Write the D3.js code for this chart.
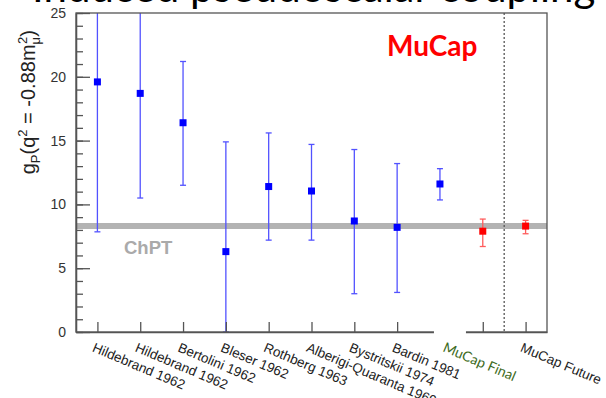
<!DOCTYPE html>
<html>
<head>
<meta charset="utf-8">
<script src="https://cdn.jsdelivr.net/npm/d3@7"></script>
<style>
  body { margin: 0; background: #fff; }
  text { font-family: Arial, "Liberation Sans", sans-serif; }
</style>
</head>
<body>
<svg id="chart" width="606" height="398"></svg>
<script>
// measurements of g_P, one entry per tick on the x axis
const tickLabels = ['Hildebrand 1962', 'Hildebrand 1962', 'Bertolini 1962', 'Bleser 1962',
  'Rothberg 1963', 'Alberigi-Quaranta 1969', 'Bystritskii 1974', 'Bardin 1981',
  'MuCap Final', '', 'MuCap Future']
const values = [19.6, 18.7, 16.4, 6.3, 11.4, 11.05, 8.7, 8.2, 11.6, 7.9, 8.3]
const errLow = [7.85, 10.5, 11.5, 0, 7.2, 7.2, 3.0, 3.1, 10.35, 6.7, 7.7]
const errHigh = [31.3, 26.9, 21.2, 14.9, 15.6, 14.7, 14.3, 13.2, 12.8, 8.85, 8.75]
const groups = ['old', 'old', 'old', 'old', 'old', 'old', 'old', 'old', 'old', 'mucap', 'mucap']
const chptValue = 8.3
const yMajorTicks = [0, 5, 10, 15, 20, 25]

const pointColor = { old: '#0000ff', mucap: '#ff0000' }
const barColor = { old: '#5252ff', mucap: '#ff5c5c' }

const svg = d3.select('#chart')
const m = { left: 76, right: 547, top: 13, bottom: 332 }

const x = d3.scaleLinear().domain([-0.5, tickLabels.length - 0.5]).range([m.left, m.right])
const y = d3.scaleLinear().domain([0, 25]).range([m.bottom, m.top])

// slide title, cut off by the top of the picture
svg.append('text')
  .attr('x', 32)
  .attr('y', 2)
  .style('font-family', 'Lato')
  .style('font-size', '42px')
  .attr('fill', '#000')
  .text('Induced pseudoscalar coupling')

svg.append('clipPath').attr('id', 'plot-clip')
  .append('rect')
  .attr('x', m.left).attr('y', m.top)
  .attr('width', m.right - m.left).attr('height', m.bottom - m.top)

const plot = svg.append('g').attr('clip-path', 'url(#plot-clip)')

// ChPT band
plot.append('line')
  .attr('x1', m.left).attr('x2', m.right)
  .attr('y1', y(chptValue)).attr('y2', y(chptValue))
  .attr('stroke', '#b3b3b3')
  .attr('stroke-width', 6)

// old / new separator
plot.append('line')
  .attr('x1', x(9.5)).attr('x2', x(9.5))
  .attr('y1', m.top).attr('y2', m.bottom)
  .attr('stroke', '#555')
  .attr('stroke-width', 1.3)
  .attr('stroke-dasharray', '2,2')

const idx = d3.range(values.length)

plot.selectAll('.err')
  .data(idx)
  .join('line')
  .attr('class', 'err')
  .attr('x1', i => x(i)).attr('x2', i => x(i))
  .attr('y1', i => y(errLow[i])).attr('y2', i => y(errHigh[i]))
  .attr('stroke', i => barColor[groups[i]])
  .attr('stroke-width', 1.3)

const caps = idx.flatMap(i => [{ i, v: errLow[i] }, { i, v: errHigh[i] }])
plot.selectAll('.cap')
  .data(caps)
  .join('line')
  .attr('class', 'cap')
  .attr('x1', d => x(d.i) - 3).attr('x2', d => x(d.i) + 3)
  .attr('y1', d => y(d.v)).attr('y2', d => y(d.v))
  .attr('stroke', d => barColor[groups[d.i]])
  .attr('stroke-width', 1.3)

plot.selectAll('.pt')
  .data(idx)
  .join('rect')
  .attr('class', 'pt')
  .attr('x', i => x(i) - 3.5)
  .attr('y', i => y(values[i]) - 3.5)
  .attr('width', 7).attr('height', 7)
  .attr('fill', i => pointColor[groups[i]])

// axes with inward ticks
const yAxis = d3.axisLeft(y).tickValues(yMajorTicks)
  .tickSizeInner(-14).tickSizeOuter(0).tickPadding(10)
const yMinor = d3.axisLeft(y).tickValues(d3.range(0, 26))
  .tickSizeInner(-7).tickSizeOuter(0).tickFormat('')
const xAxis = d3.axisBottom(x).tickValues(idx)
  .tickSizeInner(-10).tickSizeOuter(0).tickFormat('')

svg.append('g').attr('transform', `translate(${m.left},0)`).call(yMinor)
const gy = svg.append('g').attr('transform', `translate(${m.left},0)`).call(yAxis)
svg.append('g').attr('transform', `translate(0,${m.bottom})`).call(xAxis)

gy.selectAll('text')
  .style('font-family', 'Arial, "Liberation Sans", sans-serif')
  .style('font-size', '14px')
  .attr('fill', '#333')

svg.selectAll('.domain, .tick line').attr('stroke', '#555').attr('stroke-width', 1.3)

svg.append('rect')
  .attr('x', m.left).attr('y', m.top)
  .attr('width', m.right - m.left).attr('height', m.bottom - m.top)
  .attr('fill', 'none')
  .attr('stroke', '#555')
  .attr('stroke-width', 1.3)

// white patch pasted under the green label
svg.append('rect')
  .attr('x', x(8) - 6).attr('y', m.bottom - 12)
  .attr('width', 32).attr('height', 18)
  .attr('fill', '#fff')

svg.selectAll('.xlabel')
  .data(idx.filter(i => tickLabels[i]))
  .join('text')
  .attr('class', 'xlabel')
  .attr('transform', i => i === 8
    ? `translate(${x(i) + 2},${m.bottom + 19}) rotate(23)`
    : `translate(${x(i) - 6},${m.bottom + 19}) rotate(23)`)
  .style('font-family', i => i === 8 ? 'Lato' : 'Arial, "Liberation Sans", sans-serif')
  .style('font-size', i => i === 8 ? '14px' : '13.5px')
  .attr('fill', i => i === 8 ? '#3d6b22' : '#222')
  .text(i => tickLabels[i])

// y title, aligned to the top end of the axis
const title = svg.append('text')
  .attr('transform', 'translate(35,30) rotate(-90)')
  .attr('text-anchor', 'end')
  .style('font-size', '20px')
  .attr('fill', '#222')
title.append('tspan').text('g')
title.append('tspan').attr('dy', 5).style('font-size', '13px').text('P')
title.append('tspan').attr('dy', -5).text('(q')
title.append('tspan').attr('dy', -8).style('font-size', '13px').text('2')
title.append('tspan').attr('dy', 8).text(' = -0.88m')
title.append('tspan').attr('dy', 5).style('font-size', '13px').text('μ')
title.append('tspan').attr('dx', -7).attr('dy', -13).style('font-size', '13px').text('2')
title.append('tspan').attr('dy', 8).text(')')

svg.append('text')
  .attr('x', 124).attr('y', 254)
  .style('font-size', '18.5px')
  .style('font-weight', 'bold')
  .attr('fill', '#aaa')
  .text('ChPT')

svg.append('text')
  .attr('x', 387).attr('y', 56)
  .style('font-family', 'Lato')
  .style('font-size', '28px')
  .style('font-weight', 'bold')
  .attr('fill', '#ff0000')
  .text('MuCap')
</script>
</body>
</html>
